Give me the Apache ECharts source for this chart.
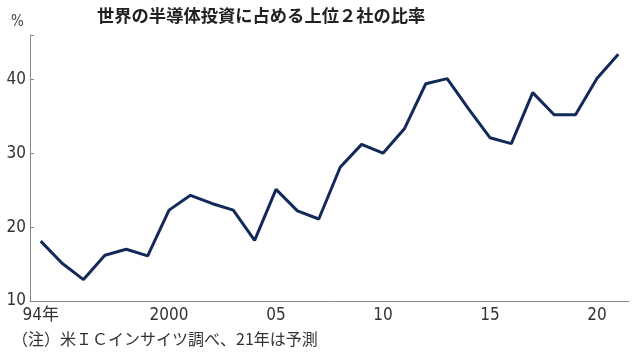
<!DOCTYPE html>
<html><head><meta charset="utf-8">
<script src="https://cdn.jsdelivr.net/npm/echarts@6/dist/echarts.min.js"></script>
<style>html,body{margin:0;padding:0;background:#fff}#c{width:638px;height:357px}</style>
</head><body><div id="c"></div>
<script>
var years = ['1994','1995','1996','1997','1998','1999','2000','2001','2002','2003','2004','2005','2006','2007','2008','2009','2010','2011','2012','2013','2014','2015','2016','2017','2018','2019','2020','2021'];
var share = [18.1,15.1,12.9,16.2,17.0,16.1,22.3,24.3,23.2,22.3,18.2,25.1,22.2,21.1,28.1,31.2,30.0,33.3,39.4,40.1,36.0,32.1,31.3,38.2,35.2,35.2,40.1,43.4];
var xLabels = {'1994':'94年','2000':'2000','2005':'05','2010':'10','2015':'15','2020':'20'};
var yTicks = [10,20,30,40];
var titleText = '世界の半導体投資に占める上位２社の比率';
var noteText = '（注）米ＩＣインサイツ調べ、21年は予測';
var unitText = '%';

var narrow = '"Liberation Sans Narrow","DejaVu Sans Condensed","Noto Sans CJK JP",sans-serif';
var chart = echarts.init(document.getElementById('c'));
chart.setOption({
  animation:false,
  graphic:[
    {type:'text',left:97,top:7,style:{text:titleText,font:'bold 17.3px "Noto Sans CJK JP",sans-serif',fill:'#222'}},
    {type:'text',left:11,top:15,style:{text:unitText,font:'15px '+narrow,fill:'#444'}},
    {type:'text',left:12,top:331,style:{text:noteText,font:'16px "Noto Sans CJK JP",sans-serif',fill:'#333'}}
  ],
  grid:{left:30,right:9,top:35,bottom:56},
  xAxis:{type:'category',data:years,boundaryGap:true,
    axisLine:{lineStyle:{color:'#888',width:1}},
    axisTick:{inside:true,length:4,alignWithLabel:true,interval:0,lineStyle:{color:'#888'}},
    axisLabel:{interval:0,margin:6,color:'#333',fontSize:17,fontFamily:narrow,
      formatter:function(v){return xLabels[v]||'';}}
  },
  yAxis:{type:'value',min:10,max:46,interval:10,
    axisLine:{show:true,lineStyle:{color:'#888',width:1}},
    axisTick:{show:true,inside:true,length:4,lineStyle:{color:'#888'}},
    splitLine:{show:false},
    axisLabel:{margin:4,color:'#333',fontSize:17,fontFamily:narrow,
      formatter:function(v){return yTicks.indexOf(v)>=0?String(v):'';}}
  },
  series:[{type:'line',data:share,symbol:'none',lineStyle:{color:'#13295a',width:3}}]
});
</script></body></html>
